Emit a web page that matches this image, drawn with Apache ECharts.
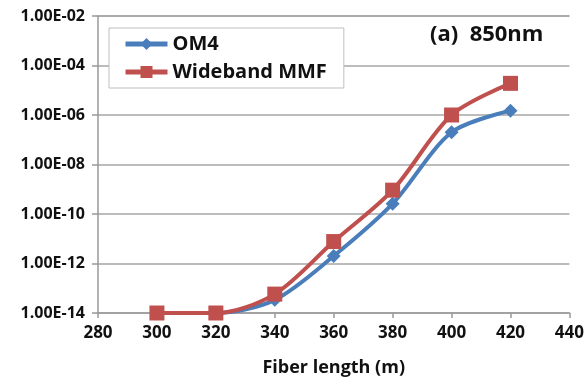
<!DOCTYPE html>
<html>
<head>
<meta charset="utf-8">
<script src="https://cdn.jsdelivr.net/npm/echarts@6/dist/echarts.min.js"></script>
<style>
html, body { margin: 0; padding: 0; background: #fff; }
#chart { width: 587px; height: 382px; }
</style>
</head>
<body>
<div id="chart"></div>
<script>
// 数据
let fiberLength = [300, 320, 340, 360, 380, 400, 420];
let om4Data = [1e-14, 1e-14, 3.4e-14, 2e-12, 2.6e-10, 2e-7, 1.5e-6];
let wideData = [1e-14, 1e-14, 5.8e-14, 7.7e-12, 9.2e-10, 1e-6, 1.9e-5];
let seriesNames = ["OM4", "Wideband MMF"];
let titleText = "(a)  850nm";
let xName = "Fiber length (m)";

function toPairs(xs, ys){
    let out = [];
    for(let i = 0; i < xs.length; i++){
        out.push([xs[i], ys[i]]);
    }
    return out;
}

function renderChart(){
    let chartDOM = document.getElementById("chart");
    let chart = echarts.init(chartDOM);
    let fontFamily = "Open Sans";
    let opts = {
        animation: false,
        title: {
            text: titleText,
            left: 425,
            top: 19,
            textStyle: {
                fontFamily: fontFamily,
                fontSize: 22,
                fontWeight: "bold",
                color: "#111"
            }
        },
        legend: {
            data: seriesNames,
            orient: "vertical",
            left: 109,
            top: 28,
            padding: [6, 17, 6, 14],
            itemGap: 8,
            itemWidth: 42,
            itemHeight: 15,
            lineStyle: { width: 5 },
            borderColor: "#bfbfbf",
            borderWidth: 1,
            backgroundColor: "#fff",
            textStyle: {
                fontFamily: fontFamily,
                fontSize: 20,
                fontWeight: "bold",
                color: "#111"
            }
        },
        grid: {
            left: 98,
            right: 17,
            top: 16,
            bottom: 68
        },
        xAxis: {
            type: "value",
            min: 280,
            max: 440,
            interval: 20,
            name: xName,
            nameLocation: "middle",
            nameGap: 46,
            nameTextStyle: {
                fontFamily: fontFamily,
                fontSize: 18,
                fontWeight: "bold",
                color: "#111"
            },
            axisLine: { lineStyle: { color: "#999", width: 1.5 } },
            axisTick: { show: true, length: 5, lineStyle: { color: "#999", width: 1.5 } },
            axisLabel: {
                margin: 12,
                fontFamily: fontFamily,
                fontSize: 17,
                fontWeight: "bold",
                color: "#111"
            },
            splitLine: { show: false }
        },
        yAxis: {
            type: "log",
            logBase: 10,
            min: 1e-14,
            max: 1e-2,
            interval: 2,
            axisLine: { show: true, lineStyle: { color: "#999", width: 1.5 } },
            axisTick: { show: true, length: 6, lineStyle: { color: "#999", width: 1.5 } },
            minorTick: { show: false },
            axisLabel: {
                margin: 13,
                fontFamily: fontFamily,
                fontSize: 16,
                fontWeight: "bold",
                color: "#111",
                formatter: function(v){
                    let e = Math.round(Math.log10(v));
                    let s = String(Math.abs(e));
                    if(s.length < 2){ s = "0" + s; }
                    return "1.00E" + (e < 0 ? "-" : "+") + s;
                }
            },
            splitLine: { show: true, lineStyle: { color: "#a6a6a6", width: 1.5 } }
        },
        series: [
            {
                name: seriesNames[0],
                type: "line",
                smooth: 0.3,
                data: toPairs(fiberLength, om4Data),
                symbol: "diamond",
                symbolSize: 14,
                lineStyle: { width: 4, color: "#4a7ebb" },
                itemStyle: { color: "#4a7ebb" }
            },
            {
                name: seriesNames[1],
                type: "line",
                smooth: 0.3,
                data: toPairs(fiberLength, wideData),
                symbol: "rect",
                symbolSize: 15,
                lineStyle: { width: 4, color: "#c0504d" },
                itemStyle: { color: "#c0504d" }
            }
        ]
    };
    chart.setOption(opts);
}
renderChart();
</script>
</body>
</html>
